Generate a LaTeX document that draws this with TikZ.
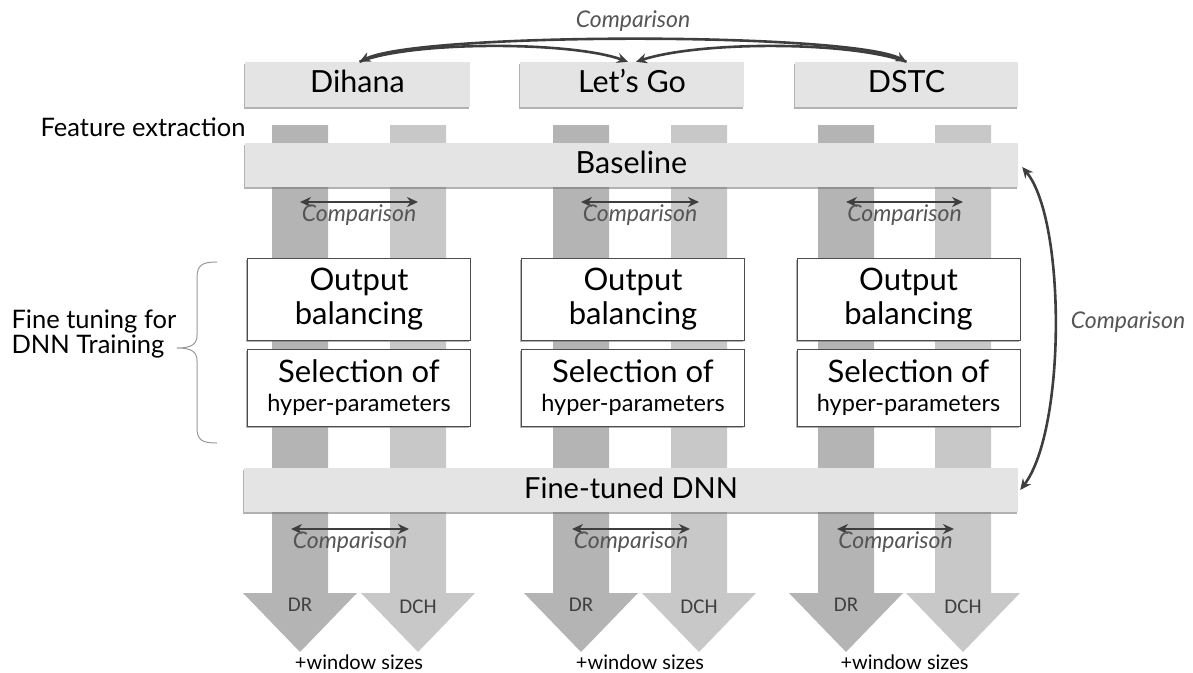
\documentclass[tikz,border=0pt]{standalone}
\usepackage{fontspec}
\setmainfont{Lato}
\newfontfamily\calfont{Carlito}
\usetikzlibrary{arrows.meta}
\usetikzlibrary{shadows}

\definecolor{bargray}{HTML}{E4E4E4}
\definecolor{darkstrip}{HTML}{B4B4B4}
\definecolor{lightstrip}{HTML}{C8C8C8}
\definecolor{linegray}{HTML}{3E3E3E}
\definecolor{textgray}{HTML}{555555}

\tikzset{
  bar box/.style={fill=bargray, inner sep=0pt, text height=22pt, text depth=6pt,
    drop shadow={shadow xshift=-1.2pt, shadow yshift=-1.6pt, opacity=.55, fill=black!55},
    font=\fontsize{30.5}{34}\selectfont},
  step box/.style={fill=white, draw=black!70, line width=1pt, inner sep=0pt, align=center,
    minimum width=223pt,
    drop shadow={shadow xshift=-1.2pt, shadow yshift=-1.6pt, opacity=.55, fill=black!55},
    font=\fontsize{31}{34}\selectfont},
  cmp arrow/.style={linegray, line width=2.6pt},
  cmp label/.style={text=textgray, inner sep=1pt, font=\fontsize{23}{26}\selectfont\itshape},
  head label/.style={text=black!75, font=\calfont\fontsize{21}{24}\selectfont},
  side label/.style={font=\fontsize{25.5}{25}\selectfont},
}

\begin{document}
\begin{tikzpicture}[x=1pt, y=-1pt, >={Stealth[length=11pt, width=10pt]}]
      \useasboundingbox (0,0) rectangle (1193,672);
      % strips ending in the DR / DCH arrow heads
      \def\shaft{28}
      \def\head{57}
      \foreach \d/\l/\c [count=\i] in {300/418/359, 581/699/633, 846/963/908.5} {
        \fill[darkstrip] (\d-\shaft,125) -- (\d+\shaft,125) -- (\d+\shaft,593) -- (\d+\head,593)
          -- (\d,652) -- (\d-\head,593) -- (\d-\shaft,593) -- cycle;
        \fill[lightstrip] (\l-\shaft,125) -- (\l+\shaft,125) -- (\l+\shaft,593) -- (\l+\head,593)
          -- (\l,652) -- (\l-\head,593) -- (\l-\shaft,593) -- cycle;
        \node[head label] (dr\i) at (\d,605) {DR};
        \node[head label] (dch\i) at (\l,607) {DCH};
        \node[anchor=base, font=\fontsize{20}{22}\selectfont] (win\i) at ({(\d+\l)/2},669) {+window sizes};
        % tuning steps
        \node[step box, minimum height=82pt] (bal\i) at (\c,299) {Output\\balancing};
        \node[step box, minimum height=77pt] (sel\i) at (\c,387.5)
          {Selection of\\[-5pt]{\fontsize{23.5}{26}\selectfont hyper-parameters}};
        % DR vs DCH
        \coordinate (ua\i) at (\d,202);
        \coordinate (ub\i) at (\l,202);
        \draw[cmp arrow, <->] (ua\i) -- node[cmp label, below, name=uc\i] {Comparison} (ub\i);
        \coordinate (la\i) at (\d-9,529);
        \coordinate (lb\i) at (\l-9,529);
        \draw[cmp arrow, <->] (la\i) -- node[cmp label, below, name=lc\i] {Comparison} (lb\i);
      }

      \node[bar box, minimum width=225pt, minimum height=45pt] (dihana) at (357.5,84.5) {Dihana};
      \node[bar box, minimum width=224pt, minimum height=45pt] (letsgo) at (632,84.5) {Let’s Go};
      \node[bar box, minimum width=223pt, minimum height=45pt] (dstc) at (906.5,84.5) {DSTC};
      \node[bar box, minimum width=773pt, minimum height=44pt] (baseline) at (631.5,165) {Baseline};
      \node[bar box, minimum width=774pt, minimum height=44pt, font=\fontsize{29}{34}\selectfont] (finetuned) at (631,490) {Fine-tuned DNN};

      % corpus comparison
      \node[cmp label] (topcmp) at (633,21) {Comparison};
      \draw[cmp arrow, <->] ([xshift=2pt]dihana.north) .. controls (420,32) and (850,32) .. (dstc.north);
      \draw[cmp arrow, ->] ([xshift=2pt]dihana.north) .. controls (410,41) and (570,41) .. ([xshift=-4pt]letsgo.north);
      \draw[cmp arrow, ->] (dstc.north) .. controls (850,41) and (700,41) .. ([xshift=4pt]letsgo.north);

      % baseline vs fine-tuned
      \draw[cmp arrow, <->] ([xshift=4pt,yshift=-2pt]baseline.east) .. controls (1066,220) and (1066,430) .. ([xshift=2pt]finetuned.east);
      \node[cmp label] (rightcmp) at (1128,322) {Comparison};

      \node[side label, anchor=east] (featx) at (249,127) {Feature extraction};
      \node[side label, anchor=west, align=left] (finetune) at (8,334) {Fine tuning for\\DNN Training};
      \draw[black!40, line width=1pt] (217,262) .. controls (202,262) and (197,265) .. (197,278) -- (197,335)
        .. controls (197,344) and (192,348) .. (177,348) .. controls (192,348) and (197,352) .. (197,361)
        -- (197,428) .. controls (197,440) and (202,443) .. (217,443);
\end{tikzpicture}
\end{document}
